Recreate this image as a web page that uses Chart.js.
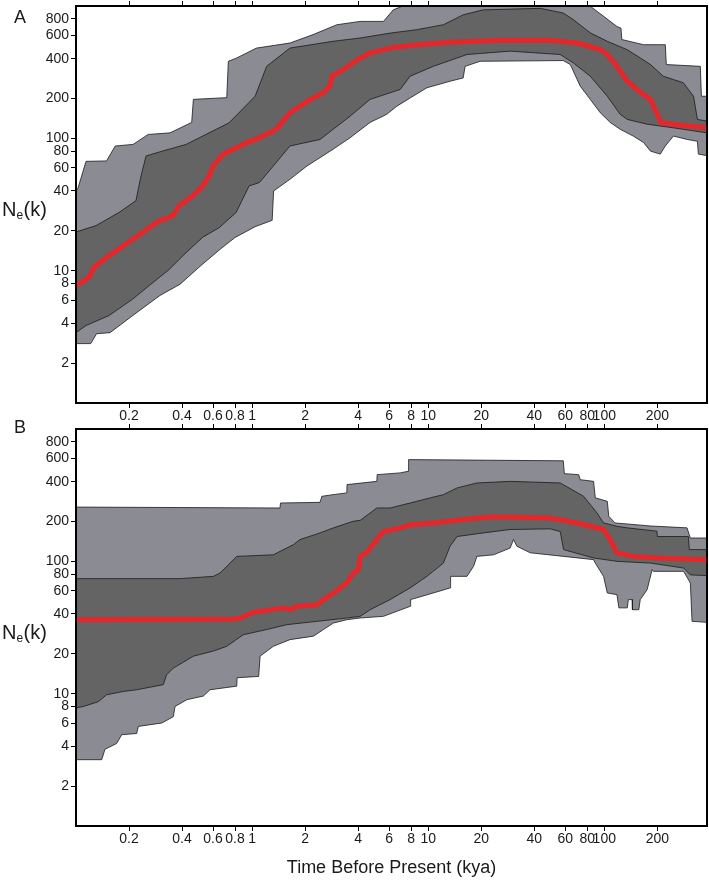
<!DOCTYPE html>
<html>
<head>
<meta charset="utf-8">
<script src="https://cdn.jsdelivr.net/npm/chart.js@4.4.1/dist/chart.umd.min.js"></script>
<style>
  html, body { margin: 0; padding: 0; background: #fff; }
  #wrap { position: relative; width: 709px; height: 880px; }
  canvas { position: absolute; left: 0; }
  #chartA { top: 0; }
  #chartB { top: 415px; }
</style>
</head>
<body>
<div id="wrap">
  <canvas id="chartA" width="709" height="430"></canvas>
  <canvas id="chartB" width="709" height="465"></canvas>
</div>
<script>
// Tick values and labels (shared by both panels)
const xTickValues = [0.2, 0.4, 0.6, 0.8, 1, 2, 4, 6, 8, 10, 20, 40, 60, 80, 100, 200];
const xTickLabels = ['0.2', '0.4', '0.6', '0.8', '1', '2', '4', '6', '8', '10', '20', '40', '60', '80', '100', '200'];
const yTickValues = [2, 4, 6, 8, 10, 20, 40, 60, 80, 100, 200, 400, 600, 800];
const yTickLabels = ['2', '4', '6', '8', '10', '20', '40', '60', '80', '100', '200', '400', '600', '800'];

// Panel A: time (kya) and Ne (k) for each boundary
const aOuterHiT = [0.1, 0.1026, 0.114, 0.149, 0.167, 0.211, 0.257, 0.342, 0.454, 0.464, 0.718, 0.733, 0.818, 1.06, 1.64, 2.22, 3.03, 4.11, 5.57, 6.33, 8.6, 78, 83, 118, 124.4, 125.7, 167, 222, 225, 351, 356, 383];
const aOuterHiN = [40, 42, 67, 67.5, 87.5, 90, 107, 110, 132, 197, 203, 382, 405, 481, 525, 608, 722, 765, 765, 935, 1100, 1100, 1000, 700, 680, 558, 510, 510, 361, 350, 208, 208];
const aOuterLoT = [0.1, 0.1212, 0.131, 0.156, 0.211, 0.30, 0.39, 0.507, 0.658, 0.80, 1.04, 1.30, 1.325, 1.64, 2.05, 2.88, 3.60, 4.68, 5.82, 6.64, 7.9, 9.83, 13.3, 15.8, 16.2, 19.7, 58.5, 64.1, 73, 83.2, 94.9, 108, 123, 146, 167, 183, 208, 222, 247, 296, 338, 342, 383];
const aOuterLoN = [2.81, 2.81, 3.34, 3.4, 4.6, 6.5, 7.9, 10.8, 14.5, 17.8, 21.5, 24, 40, 49, 61.8, 82.6, 101, 132, 152, 175, 202, 241, 270, 286, 350, 382, 387, 361, 248, 197, 156, 132, 117, 104, 93, 80, 76, 87.5, 104, 98, 95, 76, 74];
const aInnerHiT = [0.1, 0.130, 0.176, 0.219, 0.234, 0.250, 0.311, 0.422, 0.570, 0.740, 1.04, 1.21, 1.64, 2.88, 4.11, 6.08, 8.6, 12.2, 15.8, 20.5, 43.3, 58.5, 66.6, 83.2, 104, 135, 160, 183, 216, 247, 281, 321, 338, 383];
const aInnerHiN = [19.6, 21.9, 27.6, 33.8, 52, 73.6, 80.2, 90, 110, 131, 208, 350, 481, 541, 573, 624, 662, 722, 858, 935, 960, 885, 790, 627, 541, 467, 405, 361, 295, 278, 263, 208, 139, 135];
const aInnerLoT = [0.1, 0.114, 0.154, 0.210, 0.260, 0.338, 0.422, 0.525, 0.649, 0.811, 0.962, 1.10, 1.37, 1.64, 2.43, 3.60, 4.68, 6.93, 7.9, 10.7, 16.6, 29.2, 56.2, 66.6, 83.2, 104, 123, 135, 175, 247, 321, 383];
const aInnerLoN = [3.4, 3.85, 4.58, 6.1, 7.7, 10.2, 13.7, 17.9, 21.1, 27.5, 43.7, 46.3, 65.6, 87.5, 98, 147, 197, 234, 295, 350, 430, 456, 430, 372, 295, 208, 152, 139, 128, 120, 114, 110];
const aMedianT = [0.1, 0.1186, 0.1265, 0.154, 0.192, 0.239, 0.296, 0.354, 0.385, 0.461, 0.525, 0.570, 0.60, 0.682, 0.886, 1.15, 1.37, 1.64, 2.14, 2.53, 2.77, 2.84, 3.29, 4.11, 4.68, 6.08, 8.6, 13.3, 25.7, 49.3, 70, 94.9, 104, 112, 118, 135, 153, 183, 200, 210, 281, 383];
const aMedianN = [7.7, 8.9, 10.6, 13.0, 15.9, 19.5, 23.8, 25.9, 30.9, 36.8, 43.7, 52, 61.8, 75.7, 90, 104, 117, 156, 197, 221, 248, 295, 331, 405, 442, 481, 510, 532, 552, 552, 525, 469, 430, 382, 350, 270, 234, 197, 152, 131, 125, 120];

// Panel B
const bOuterHiT = [0.1, 1.44, 1.45, 2.43, 2.49, 2.88, 3.45, 3.46, 5.11, 5.13, 6.93, 7.70, 7.74, 58.5, 59.3, 71.5, 73, 86.9, 88.9, 104, 106, 115, 183, 295, 308, 383];
const bOuterHiN = [257, 253, 276, 279, 310, 319, 329, 380, 402, 452, 466, 479, 587, 575, 460, 452, 414, 402, 302, 284, 219, 195, 185, 179, 150, 150];
const bOuterLoT = [0.1, 0.140, 0.146, 0.170, 0.182, 0.221, 0.226, 0.307, 0.357, 0.365, 0.426, 0.529, 0.577, 0.818, 0.822, 1.09, 1.11, 1.32, 1.64, 2.23, 2.54, 2.90, 3.45, 4.11, 5.57, 7.9, 7.95, 10.7, 13.3, 13.4, 16.6, 18.1, 18.9, 23.5, 29.2, 30.5, 31.9, 38.0, 58.7, 86.9, 88.9, 99, 104, 118, 121, 135, 137, 144, 144.5, 157, 160, 175, 187, 190, 282, 308, 315, 383];
const bOuterLoN = [3.17, 3.17, 3.8, 4.2, 4.9, 5.0, 5.66, 6.0, 6.7, 8.0, 9.0, 9.6, 10.7, 11.4, 13.2, 13.5, 19.2, 22.8, 25.6, 27.2, 30.5, 34.2, 36.2, 37.3, 38.4, 45.7, 51.4, 57.7, 62.9, 77, 77, 91.7, 109, 112, 126, 146, 130, 116, 109, 103, 97, 77, 57.7, 56, 44.5, 44.5, 51.4, 51.4, 43.1, 43.1, 51.4, 61, 86.6, 84, 84, 68.7, 35.2, 34.6];
const bInnerHiT = [0.1, 0.390, 0.603, 0.658, 0.750, 0.818, 1.32, 1.72, 1.87, 2.43, 2.90, 3.76, 4.11, 5.11, 6.08, 8.6, 10.3, 12.2, 14.6, 18.9, 29.2, 56.2, 76.3, 90.9, 99, 118, 135, 199, 200, 300, 304, 383];
const bInnerHiN = [74, 74, 77, 81.7, 97, 109, 112, 134, 146, 164, 179, 201, 204, 253, 253, 284, 302, 319, 359, 391, 402, 391, 310, 232, 195, 184, 179, 169, 154, 154, 122.6, 122.6];
const bInnerLoT = [0.1, 0.110, 0.134, 0.149, 0.186, 0.221, 0.313, 0.327, 0.357, 0.464, 0.603, 0.718, 0.892, 1.21, 1.57, 2.33, 3.45, 4.11, 4.68, 6.08, 7.9, 9.83, 12.2, 13.3, 14.6, 20.6, 29.2, 49.3, 56.2, 58.7, 86.9, 118, 183, 282, 308, 383];
const bInnerLoN = [7.8, 8.0, 8.7, 9.8, 10.4, 10.7, 11.7, 13.9, 15.6, 19.2, 21.0, 22.8, 27.9, 30.5, 33.2, 35.2, 37.3, 38.4, 43.1, 51.4, 63, 77, 97, 130, 154, 164, 174, 176, 168, 122.6, 106, 100, 97, 89, 79, 78];
const bMedianT = [0.1, 0.780, 0.855, 1.017, 1.51, 1.64, 1.79, 2.33, 2.54, 2.90, 3.45, 3.76, 4.02, 4.11, 4.48, 5.11, 5.57, 6.93, 7.9, 10.7, 16.6, 22.5, 29.2, 49.3, 70, 99, 108, 118, 147, 208, 383];
const bMedianN = [36.2, 36.7, 37.3, 41.2, 44.5, 43.1, 45.7, 47, 51.4, 57.7, 68.7, 81.7, 86.6, 109, 117, 146, 168, 179, 189, 195, 209, 216, 216, 213, 195, 174, 146, 116, 109, 106, 103];

const FONT = "'Liberation Sans', Arial, sans-serif";
const LIGHT = '#8a8b93';
const DARK = '#646464';
const RED = '#e5262a';

Chart.defaults.font.family = FONT;
Chart.defaults.color = '#1a1a1a';

function pts(t, n) {
    return t.map((v, i) => ({ x: v, y: n[i] }));
}

function setTicks(values) {
    return scale => { scale.ticks = values.map(v => ({ value: v })); };
}

// frame, panel letter and the N_e(k) label
const panelText = {
    id: 'panelText',
    afterDraw(chart, args, opts) {
        const { ctx, chartArea } = chart;
        ctx.save();
        ctx.strokeStyle = '#000';
        ctx.lineWidth = 2;
        ctx.strokeRect(chartArea.left, chartArea.top, chartArea.right - chartArea.left, chartArea.bottom - chartArea.top);

        ctx.fillStyle = '#1a1a1a';
        ctx.textBaseline = 'alphabetic';
        ctx.textAlign = 'left';
        ctx.font = '18px ' + FONT;
        ctx.fillText(opts.letter, 14, opts.letterY);

        let x = 2;
        const y = chartArea.top + 210;
        ctx.font = '20px ' + FONT;
        ctx.fillText('N', x, y);
        x += ctx.measureText('N').width;
        ctx.font = '12px ' + FONT;
        ctx.fillText('e', x, y + 3);
        x += ctx.measureText('e').width + 0.5;
        ctx.font = '20px ' + FONT;
        ctx.fillText('(k)', x, y);
        ctx.restore();
    }
};

function bandLine(data, fill, color) {
    return {
        data: data,
        borderColor: '#1a1a1a',
        borderWidth: 0.8,
        backgroundColor: color,
        fill: fill,
        pointRadius: 0,
        tension: 0
    };
}

function createPanel(id, d, opts) {
    const ctx = document.getElementById(id);
    const datasets = [
        {
            data: pts(d.medT, d.medN),
            borderColor: RED,
            borderWidth: 5,
            borderJoinStyle: 'round',
            borderCapStyle: 'round',
            pointRadius: 0,
            fill: false,
            tension: 0
        },
        bandLine(pts(d.innerHiT, d.innerHiN), '+1', DARK),
        bandLine(pts(d.innerLoT, d.innerLoN), false, DARK),
        bandLine(pts(d.outerHiT, d.outerHiN), '+1', LIGHT),
        bandLine(pts(d.outerLoT, d.outerLoN), false, LIGHT)
    ];

    return new Chart(ctx, {
        type: 'line',
        data: { datasets: datasets },
        options: {
            responsive: false,
            animation: false,
            layout: { padding: { left: 0, right: 2, top: 0, bottom: 0 } },
            plugins: {
                legend: { display: false },
                tooltip: { enabled: false },
                filler: { drawTime: 'beforeDatasetsDraw', propagate: false },
                panelText: { letter: opts.letter, letterY: opts.letterY }
            },
            scales: {
                x: {
                    type: 'logarithmic',
                    position: 'bottom',
                    min: 0.1,
                    max: 383,
                    afterBuildTicks: setTicks(xTickValues),
                    afterFit: s => { s.height = opts.bottomH; s.paddingLeft = 0; s.paddingRight = 0; },
                    ticks: {
                        autoSkip: false,
                        maxRotation: 0,
                        padding: 0,
                        font: { size: 14 },
                        callback: (v, i) => xTickLabels[i]
                    },
                    grid: { drawOnChartArea: false, drawTicks: true, tickLength: 5, color: '#000' },
                    border: { display: false },
                    title: {
                        display: !!opts.xTitle,
                        text: opts.xTitle || '',
                        font: { size: 18 },
                        padding: { top: 1, bottom: 1 }
                    }
                },
                x2: {
                    type: 'logarithmic',
                    position: 'top',
                    min: 0.1,
                    max: 383,
                    afterBuildTicks: setTicks(xTickValues),
                    afterFit: s => { s.height = opts.topH; s.paddingLeft = 0; s.paddingRight = 0; },
                    ticks: { display: false },
                    grid: { drawOnChartArea: false, drawTicks: true, tickLength: 5, color: '#000' },
                    border: { display: false }
                },
                y: {
                    type: 'logarithmic',
                    position: 'left',
                    min: 1,
                    max: 1000,
                    afterBuildTicks: setTicks(yTickValues),
                    afterFit: s => { s.width = 76; s.paddingTop = 0; s.paddingBottom = 0; },
                    ticks: {
                        autoSkip: false,
                        padding: 2,
                        font: { size: 14 },
                        callback: (v, i) => yTickLabels[i]
                    },
                    grid: { drawOnChartArea: false, drawTicks: true, tickLength: 5, color: '#000' },
                    border: { display: false }
                }
            }
        },
        plugins: [panelText]
    });
}

document.addEventListener('DOMContentLoaded', function () {
    createPanel('chartA', {
        medT: aMedianT, medN: aMedianN,
        innerHiT: aInnerHiT, innerHiN: aInnerHiN,
        innerLoT: aInnerLoT, innerLoN: aInnerLoN,
        outerHiT: aOuterHiT, outerHiN: aOuterHiN,
        outerLoT: aOuterLoT, outerLoN: aOuterLoN
    }, { letter: 'A', letterY: 23, topH: 6, bottomH: 27 });

    createPanel('chartB', {
        medT: bMedianT, medN: bMedianN,
        innerHiT: bInnerHiT, innerHiN: bInnerHiN,
        innerLoT: bInnerLoT, innerLoN: bInnerLoN,
        outerHiT: bOuterHiT, outerHiN: bOuterHiN,
        outerLoT: bOuterLoT, outerLoN: bOuterLoN
    }, { letter: 'B', letterY: 18, topH: 14, bottomH: 54, xTitle: 'Time Before Present (kya)' });
});
</script>
</body>
</html>
